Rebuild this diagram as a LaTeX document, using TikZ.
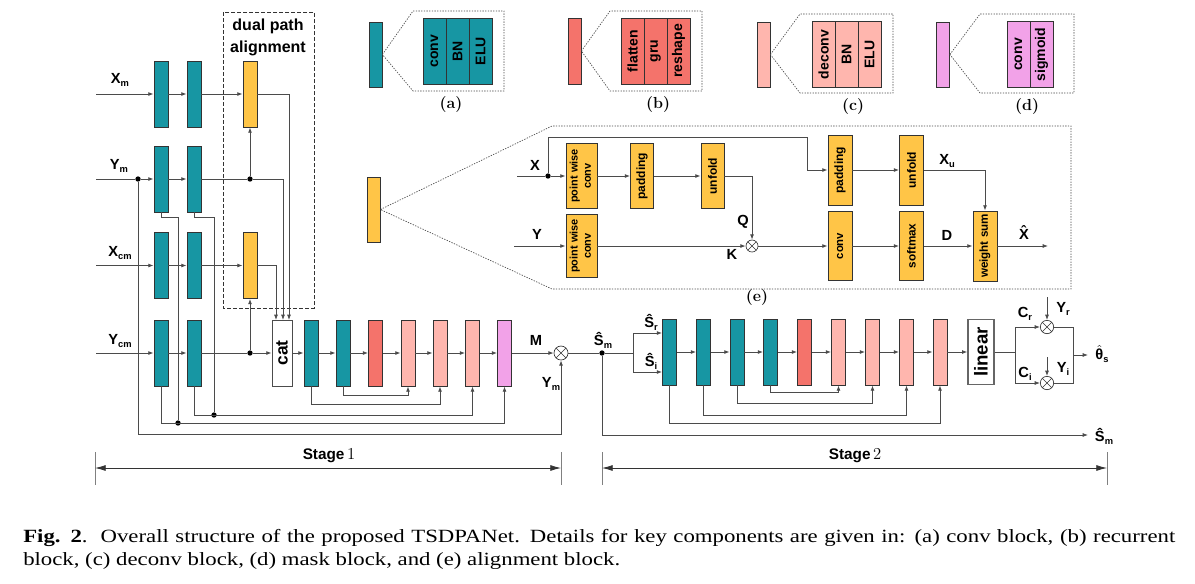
\documentclass[tikz,border=0pt]{standalone}
\usepackage{fontspec}
\setsansfont{Liberation Sans}
\newfontfamily\capfont[FakeStretch=1.22]{Liberation Serif}
\usetikzlibrary{arrows.meta,calc}
\definecolor{cteal}{RGB}{23,150,163}
\definecolor{cred}{RGB}{244,115,107}
\definecolor{cpink}{RGB}{255,182,174}
\definecolor{cmag}{RGB}{242,162,232}
\definecolor{cyel}{RGB}{255,197,71}
\definecolor{cline}{RGB}{75,75,75}
\newcommand\lb[2]{{\sffamily\bfseries\fontsize{11}{11}\selectfont #1\raisebox{-0.4ex}{\fontsize{7}{7}\selectfont #2}}}
\newcommand\hlb[2]{{\sffamily\bfseries\fontsize{11}{11}\selectfont $\hat{\mbox{#1}}$\raisebox{-0.4ex}{\fontsize{7}{7}\selectfont #2}}}
\newcommand\rt[2]{\rotatebox{90}{\sffamily\bfseries\fontsize{#1}{#1}\selectfont #2}}
\newcommand\rtt[3]{\rotatebox{90}{\sffamily\bfseries\fontsize{#1}{10}\selectfont\begin{tabular}{@{}c@{}}#2\\#3\end{tabular}}}
\tikzset{
 blk/.style={draw=black!80, line width=0.6pt, inner sep=0pt, minimum width=10.5pt, minimum height=49.5pt},
 tb/.style={blk, fill=cteal}, rb/.style={blk, fill=cred}, pb/.style={blk, fill=cpink},
 mb/.style={blk, fill=cmag}, yb/.style={blk, fill=cyel},
 cn/.style={draw=cline, line width=0.65pt},
 ar/.style={cn, -{Latex[length=4pt,width=3pt]}},
 jd/.style={circle, fill=black, inner sep=0pt, minimum size=4pt},
 ox/.style={circle, draw=black!80, line width=0.5pt, fill=white, inner sep=0pt, minimum size=#1,
   path picture={\draw[black!80, line width=0.5pt] (path picture bounding box.south west) -- (path picture bounding box.north east) (path picture bounding box.north west) -- (path picture bounding box.south east);}},
 ox/.default=10.5pt,
 lc/.style={blk, minimum width=17.25pt, minimum height=49.5pt},
 eb/.style={yb, minimum width=17.25pt, minimum height=48.75pt},
 ebt/.style={yb, minimum width=18pt, minimum height=52.5pt},
 dt/.style={draw=black!70, line width=0.5pt, dash pattern=on 1pt off 1pt},
 lab/.style={inner sep=0pt},
 sub/.style={inner sep=0pt, font=\fontsize{12}{12}\selectfont},
 sa/.style={draw=black!80, line width=0.6pt, {Latex[length=8pt,width=4.5pt]}-{Latex[length=8pt,width=4.5pt]}},
}
\begin{document}
\begin{tikzpicture}[x=0.75pt,y=-0.75pt]
\useasboundingbox (0,0) rectangle (1195,583);
\fill[white] (0,0) rectangle (1195,583);

% ---------------- legend (a)-(d)
\node[tb, minimum width=9.75pt, minimum height=48.75pt] (sa) at (375.5,54.5) {};
\node[lc, fill=cteal] (a1) at (434.5,51) {\rt{10.5}{conv}};
\node[lc, fill=cteal] (a2) at (457.5,51) {\rt{10.5}{BN}};
\node[lc, fill=cteal] (a3) at (480.5,51) {\rt{10.5}{ELU}};
\draw[dt] (sa.east) -- (413,11) -- (504,11) -- (504,91) -- (413,91) -- cycle;
\node[sub] (la) at (451,105) {\textbf{(a)}};

\node[rb, minimum width=9.75pt, minimum height=49.5pt] (sb) at (574.5,51) {};
\node[lc, fill=cred] (b1) at (632.5,51) {\rt{10.5}{flatten}};
\node[lc, fill=cred] (b2) at (655.5,51) {\rt{10.5}{gru}};
\node[lc, fill=cred] (b3) at (678.5,51) {\rt{10.5}{reshape}};
\draw[dt] (sb.east) -- (610,11) -- (702,11) -- (702,91) -- (610,91) -- cycle;
\node[sub] (lbb) at (658,105) {\textbf{(b)}};

\node[pb, minimum width=9.75pt, minimum height=48.75pt] (sc) at (763.5,54.5) {};
\node[lc, fill=cpink] (c1) at (823.5,54.5) {\rt{10.5}{deconv}};
\node[lc, fill=cpink] (c2) at (846.5,54.5) {\rt{10.5}{BN}};
\node[lc, fill=cpink] (c3) at (869.5,54.5) {\rt{10.5}{ELU}};
\draw[dt] (sc.east) -- (800,14) -- (893,14) -- (893,93) -- (800,93) -- cycle;
\node[sub] (lc) at (853,107) {\textbf{(c)}};

\node[mb, minimum width=9.75pt, minimum height=48.75pt] (sd) at (943,54.5) {};
\node[lc, fill=cmag] (d1) at (1018.5,54.5) {\rt{10.5}{conv}};
\node[lc, fill=cmag] (d2) at (1041.5,54.5) {\rt{10.5}{sigmoid}};
\draw[dt] (sd.east) -- (980,14) -- (1074,14) -- (1074,93) -- (980,93) -- cycle;
\node[sub] (ld) at (1027,107) {\textbf{(d)}};

% ---------------- alignment block (e)
\node[yb, minimum width=9.75pt, minimum height=48.75pt] (sy) at (373.5,209.5) {};
\draw[dt] (sy.east) -- (552,126) -- (1071,126) -- (1071,289) -- (552,289) -- cycle;
\node[sub] (le) at (757,297) {\textbf{(e)}};

\node[eb, minimum width=23.25pt] (pw1) at (581.5,176) {\rtt{8.2}{point wise}{conv}};
\node[eb] (pad1) at (642,176) {\rt{9}{padding}};
\node[eb] (unf1) at (712.5,176) {\rt{9}{unfold}};
\node[eb, minimum width=23.25pt, minimum height=47.25pt] (pw2) at (581.5,246) {\rtt{8.2}{point wise}{conv}};
\node[ox=9pt] (ok) at (752,246) {};
\node[ebt] (pad2) at (840,170) {\rt{9}{padding}};
\node[ebt] (unf2) at (911.5,170) {\rt{9}{unfold}};
\node[ebt, minimum height=51.75pt] (econv) at (840,246) {\rt{8.5}{conv}};
\node[ebt, minimum height=51.75pt] (esm) at (911.5,246) {\rt{8.8}{softmax}};
\node[ebt, minimum height=52.5pt] (ws) at (985,246) {\rt{8.7}{weight sum}};

\coordinate (ex) at (517,176);
\node[jd] (edx) at (548,176) {};
\draw[cn] (ex) -- (edx);
\draw[ar] (edx) -- (pw1);
\draw[ar] (pw1) -- (pad1);
\draw[ar] (pad1) -- (unf1);
\coordinate (eq) at (752,176);
\draw[ar] (unf1.east) -- (eq) -- (ok);
\coordinate (et1) at (548,137);
\coordinate (et2) at (807,137);
\coordinate (et3) at (807,170);
\draw[ar] (edx) -- (et1) -- (et2) -- (et3) -- (pad2);
\draw[ar] (pad2) -- (unf2);
\coordinate (eu) at (985,170);
\draw[ar] (unf2) -- (eu) -- (ws);
\coordinate (ey) at (514,246);
\draw[ar] (ey) -- (pw2);
\draw[ar] (pw2) -- (ok);
\draw[ar] (ok) -- (econv);
\draw[ar] (econv) -- (esm);
\draw[ar] (esm) -- (ws);
\coordinate (eo) at (1048,246);
\draw[ar] (ws) -- (eo);
\node[lab] (lex) at (535,167) {\lb{X}{}};
\node[lab] (ley) at (537,236) {\lb{Y}{}};
\node[lab] (leq) at (743,222) {\lb{Q}{}};
\node[lab] (lek) at (732,256) {\lb{K}{}};
\node[lab] (led) at (947,237) {\lb{D}{}};
\node[lab] (lexu) at (947,161) {\lb{X}{u}};
\node[lab] (lexh) at (1024,234) {\lb{X̂}{}};

% ---------------- stage 1
\draw[black!80, line width=0.6pt, dash pattern=on 3pt off 1.5pt] (223,12) rectangle (314,308);
\node[align=center, font=\sffamily\bfseries\fontsize{12}{16.5}\selectfont, inner sep=0pt] (dpa) at (268,37) {dual path\\alignment};

\node[tb] (xm1) at (161,94) {};
\node[tb] (xm2) at (194,94) {};
\node[yb] (ax) at (250,94) {};
\node[tb] (ym1) at (161,179) {};
\node[tb] (ym2) at (194,179) {};
\node[tb] (xc1) at (161,265.5) {};
\node[tb] (xc2) at (194,265.5) {};
\node[yb] (axc) at (250,265.5) {};
\node[tb] (yc1) at (161,353) {};
\node[tb] (yc2) at (194,353) {};
\node[blk, fill=white, draw=black!70, minimum width=15pt] (cat) at (282,353) {\rt{13}{cat}};
\node[tb] (s1a) at (311,353) {};
\node[tb] (s1b) at (343,353) {};
\node[rb] (s1r) at (375.5,353) {};
\node[pb] (s1p1) at (408,353) {};
\node[pb] (s1p2) at (440,353) {};
\node[pb] (s1p3) at (472.5,353) {};
\node[mb] (s1m) at (504.5,353) {};
\node[ox] (ot1) at (561,353) {};

\node[lab] (lxm) at (120,80) {\lb{X}{m}};
\node[lab] (lym) at (119,166) {\lb{Y}{m}};
\node[lab] (lxc) at (120,253) {\lb{X}{cm}};
\node[lab] (lyc) at (120,341) {\lb{Y}{cm}};
\node[lab] (lm) at (536,342) {\lb{M}{}};
\node[lab] (lym2) at (551,384) {\lb{Y}{m}};

\coordinate (ixm) at (96,94);
\coordinate (iym) at (96,179);
\coordinate (ixc) at (96,265.5);
\coordinate (iyc) at (96,353);
\coordinate (ct1) at (276,320);
\coordinate (ct2) at (283,320);
\coordinate (ct3) at (289,320);
\node[jd] (dym) at (138,179) {};
\node[jd] (dya) at (250,179) {};
\node[jd] (dyc) at (250,353) {};
\node[jd] (j1) at (178,423) {};
\node[jd] (j2) at (214,415) {};
\coordinate (k1) at (138,434);

\draw[ar] (ixm) -- (xm1);
\draw[ar] (xm1) -- (xm2);
\draw[ar] (xm2) -- (ax);
\draw[ar] (ax.east) -| (ct3);
\draw[cn] (iym) -- (dym);
\draw[ar] (dym) -- (ym1);
\draw[ar] (ym1) -- (ym2);
\draw[cn] (ym2) -- (dya);
\draw[ar] (dya) -| (ct2);
\draw[ar] (dya) -- (ax);
\draw[ar] (ixc) -- (xc1);
\draw[ar] (xc1) -- (xc2);
\draw[ar] (xc2) -- (axc);
\draw[ar] (axc.east) -| (ct1);
\draw[ar] (iyc) -- (yc1);
\draw[ar] (yc1) -- (yc2);
\draw[cn] (yc2) -- (dyc);
\draw[ar] (dyc) -- (cat);
\draw[ar] (dyc) -- (axc);
\draw[ar] (cat) -- (s1a);
\draw[ar] (s1a) -- (s1b);
\draw[ar] (s1b) -- (s1r);
\draw[ar] (s1r) -- (s1p1);
\draw[ar] (s1p1) -- (s1p2);
\draw[ar] (s1p2) -- (s1p3);
\draw[ar] (s1p3) -- (s1m);
\draw[ar] (s1m) -- (ot1);
\draw[ar] (s1b.south) -- ++(0,9) -| (s1p1.south);
\draw[ar] (s1a.south) -- ++(0,18) -| (s1p2.south);
\draw[ar] (yc2.south) -- ++(0,29) -| (s1p3.south);
\draw[ar] (yc1.south) -- ++(0,37) -| (s1m.south);
\draw[cn] (ym1.south) -- ++(0,5) -| (j1);
\draw[cn] (ym2.south) -- ++(0,5) -| (j2);
\draw[ar] (dym) -- (k1) -| (ot1);

% ---------------- stage 2
\node[jd] (dsm) at (602,353) {};
\coordinate (br) at (633,353);
\coordinate (br1) at (633,333);
\coordinate (br2) at (633,372);
\node[tb] (s2a) at (669.5,352) {};
\node[tb] (s2b) at (703.5,352) {};
\node[tb] (s2c) at (737,352) {};
\node[tb] (s2d) at (770.5,352) {};
\node[rb] (s2r) at (804.5,352) {};
\node[pb] (s2p1) at (838.5,352) {};
\node[pb] (s2p2) at (872.5,352) {};
\node[pb] (s2p3) at (906.5,352) {};
\node[pb] (s2p4) at (940,352) {};
\node[blk, fill=white, draw=black!60, line width=1pt, minimum width=19.5pt, minimum height=48.75pt] (lin) at (981,352) {\rt{14}{linear}};
\node[ox=10pt] (otr) at (1047,327) {};
\node[ox=10pt] (oti) at (1047,383) {};

\node[lab] (lsm) at (603,340) {\lb{Ŝ}{m}};
\node[lab] (lsr) at (651,322) {\lb{Ŝ}{r}};
\node[lab] (lsi) at (651,361) {\lb{Ŝ}{i}};
\node[lab] (lcr) at (1025,314) {\lb{C}{r}};
\node[lab] (lyr) at (1063,309) {\lb{Y}{r}};
\node[lab] (lci) at (1025,374) {\lb{C}{i}};
\node[lab] (lyi) at (1063,369) {\lb{Y}{i}};
\node[lab] (lth) at (1102,354) {\hlb{θ}{s}};
\node[lab] (lsm2) at (1104,436) {\lb{Ŝ}{m}};

\draw[cn] (ot1) -- (dsm) -- (br);
\draw[ar] (br) -- (br1) -- (br1 -| s2a.west);
\draw[ar] (br) -- (br2) -- (br2 -| s2a.west);
\draw[ar] (s2a) -- (s2b);
\draw[ar] (s2b) -- (s2c);
\draw[ar] (s2c) -- (s2d);
\draw[ar] (s2d) -- (s2r);
\draw[ar] (s2r) -- (s2p1);
\draw[ar] (s2p1) -- (s2p2);
\draw[ar] (s2p2) -- (s2p3);
\draw[ar] (s2p3) -- (s2p4);
\draw[ar] (s2p4) -- (lin);
\draw[ar] (s2d.south) -- ++(0,7) -| (s2p1.south);
\draw[ar] (s2c.south) -- ++(0,18) -| (s2p2.south);
\draw[ar] (s2b.south) -- ++(0,30) -| (s2p3.south);
\draw[ar] (s2a.south) -- ++(0,38) -| (s2p4.south);
\coordinate (k2) at (602,435);
\coordinate (e2) at (1088,435);
\draw[ar] (dsm) -- (k2) -- (e2);

\coordinate (sp) at (1015,352);
\coordinate (spu) at (1015,327);
\coordinate (spd) at (1015,383);
\draw[cn] (lin) -- (sp);
\draw[ar] (sp) -- (spu) -- (otr);
\draw[ar] (sp) -- (spd) -- (oti);
\coordinate (mr) at (1073,327);
\coordinate (mi) at (1073,383);
\coordinate (mo) at (1073,355);
\coordinate (th) at (1088,355);
\draw[cn] (otr) -- (mr) -- (mi) -- (oti);
\draw[ar] (mo) -- (th);
\coordinate (yrt) at (1047,297);
\coordinate (yit) at (1047,357);
\draw[ar] (yrt) -- (otr);
\draw[ar] (yit) -- (oti);

% ---------------- stage spans
\coordinate (t1a) at (95,452); \coordinate (t1b) at (95,485);
\coordinate (t2a) at (561,452); \coordinate (t2b) at (561,485);
\coordinate (t3a) at (602,452); \coordinate (t3b) at (602,485);
\coordinate (t4a) at (1107,452); \coordinate (t4b) at (1107,485);
\coordinate (h1a) at (95,468); \coordinate (h1b) at (561,468);
\coordinate (h2a) at (602,468); \coordinate (h2b) at (1107,468);
\draw[draw=black!50, line width=0.5pt] (t1a) -- (t1b) (t2a) -- (t2b) (t3a) -- (t3b) (t4a) -- (t4b);
\draw[sa] (h1a) -- (h1b);
\draw[sa] (h2a) -- (h2b);
\node[lab] (st1) at (329,456) {\sffamily\bfseries\fontsize{11.5}{12}\selectfont Stage\,{\rmfamily\mdseries\fontsize{12.5}{12}\selectfont 1}};
\node[lab] (st2) at (855,456) {\sffamily\bfseries\fontsize{11.5}{12}\selectfont Stage\,{\rmfamily\mdseries\fontsize{12.5}{12}\selectfont 2}};

% ---------------- caption
\node[anchor=base west, inner sep=0pt] (cap1) at (23,542) {\capfont\fontsize{14}{17}\selectfont\makebox[864pt][s]{\textbf{Fig. 2}.\ \ Overall structure of the proposed TSDPANet. Details for key components are given in: (a) conv block, (b) recurrent}};
\node[anchor=base west, inner sep=0pt] (cap2) at (23,565) {\capfont\fontsize{14}{17}\selectfont block, (c) deconv block, (d) mask block, and (e) alignment block.};
\end{tikzpicture}
\end{document}
